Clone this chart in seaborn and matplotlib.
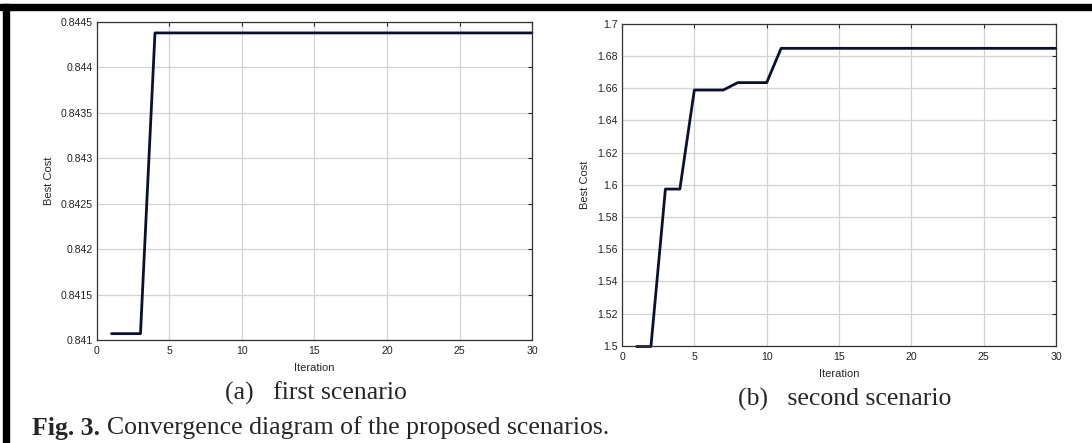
import numpy as np
import pandas as pd
import seaborn as sns
import matplotlib.pyplot as plt
from matplotlib.patches import Rectangle

iterations = list(range(1, 31))
cost_first = [0.84107, 0.84107, 0.84107] + [0.84438] * 27
cost_second = [1.4995, 1.4995, 1.5973, 1.5973, 1.6588, 1.6588, 1.6588,
               1.6634, 1.6634, 1.6634] + [1.6847] * 20

first_yticks = [0.841, 0.8415, 0.842, 0.8425, 0.843, 0.8435, 0.844, 0.8445]
first_ylabels = ["0.841", "0.8415", "0.842", "0.8425", "0.843", "0.8435", "0.844", "0.8445"]
second_yticks = [1.5, 1.52, 1.54, 1.56, 1.58, 1.6, 1.62, 1.64, 1.66, 1.68, 1.7]
second_ylabels = ["1.5", "1.52", "1.54", "1.56", "1.58", "1.6", "1.62", "1.64", "1.66", "1.68", "1.7"]
xticks = [0, 5, 10, 15, 20, 25, 30]

sns.set_style("white")
plt.rcParams['font.family'] = ['Liberation Sans', 'DejaVu Sans']

fig = plt.figure(figsize=(10.92, 4.43), dpi=100)
ax1 = fig.add_axes([0.0888, 0.2325, 0.3984, 0.7178])
ax2 = fig.add_axes([0.5696, 0.2196, 0.3974, 0.7269])

line_color = "#0b1030"


def style_axes(ax, yticks, ylabels, ylim):
    ax.set_xlim(0, 30)
    ax.set_ylim(*ylim)
    ax.set_xticks(xticks)
    ax.set_xticklabels([str(t) for t in xticks])
    ax.set_yticks(yticks)
    ax.set_yticklabels(ylabels)
    ax.grid(True, color="#d2d2d2", linewidth=0.9)
    ax.set_axisbelow(True)
    ax.tick_params(direction="in", length=3, width=0.8, top=True, right=True,
                   labelsize=7.6, colors="#222222")
    ax.tick_params(axis="x", pad=4.5)
    ax.tick_params(axis="y", pad=3)
    for s in ax.spines.values():
        s.set_color("#333333")
        s.set_linewidth(0.9)
    ax.set_xlabel("Iteration", fontsize=8, labelpad=5)
    ax.set_ylabel("Best Cost", fontsize=8, labelpad=5)


df1 = pd.DataFrame({"Iteration": iterations, "Best Cost": cost_first})
df2 = pd.DataFrame({"Iteration": iterations, "Best Cost": cost_second})

sns.lineplot(data=df1, x="Iteration", y="Best Cost", ax=ax1, color=line_color, linewidth=2)
sns.lineplot(data=df2, x="Iteration", y="Best Cost", ax=ax2, color=line_color, linewidth=2)

style_axes(ax1, first_yticks, first_ylabels, (0.841, 0.8445))
style_axes(ax2, second_yticks, second_ylabels, (1.5, 1.7))
for ax in (ax1, ax2):
    for ln in ax.get_lines():
        ln.set_clip_on(False)

serif = ['Liberation Serif', 'DejaVu Serif']
fig.text(316 / 1092, 1 - 393 / 443, "(a)   first scenario", ha="center", va="center",
         fontsize=18.5, family=serif)
fig.text(845 / 1092, 1 - 399 / 443, "(b)   second scenario", ha="center", va="center",
         fontsize=18.5, family=serif)
fig.text(32 / 1092, 1 - 428 / 443, "Fig. 3.", ha="left", va="center",
         fontsize=18.5, family=serif, fontweight="bold")
fig.text(107 / 1092, 1 - 428 / 443, "Convergence diagram of the proposed scenarios.",
         ha="left", va="center", fontsize=18.5, family=serif)

# black frame of the figure panel (top and left edges)
fig.patches.append(Rectangle((0, 1 - 10 / 443), 1, 6 / 443, transform=fig.transFigure,
                             color="black", zorder=10))
fig.patches.append(Rectangle((3 / 1092, 0), 6 / 1092, 1 - 4 / 443, transform=fig.transFigure,
                             color="black", zorder=10))

fig.savefig("out.png", dpi=100)
